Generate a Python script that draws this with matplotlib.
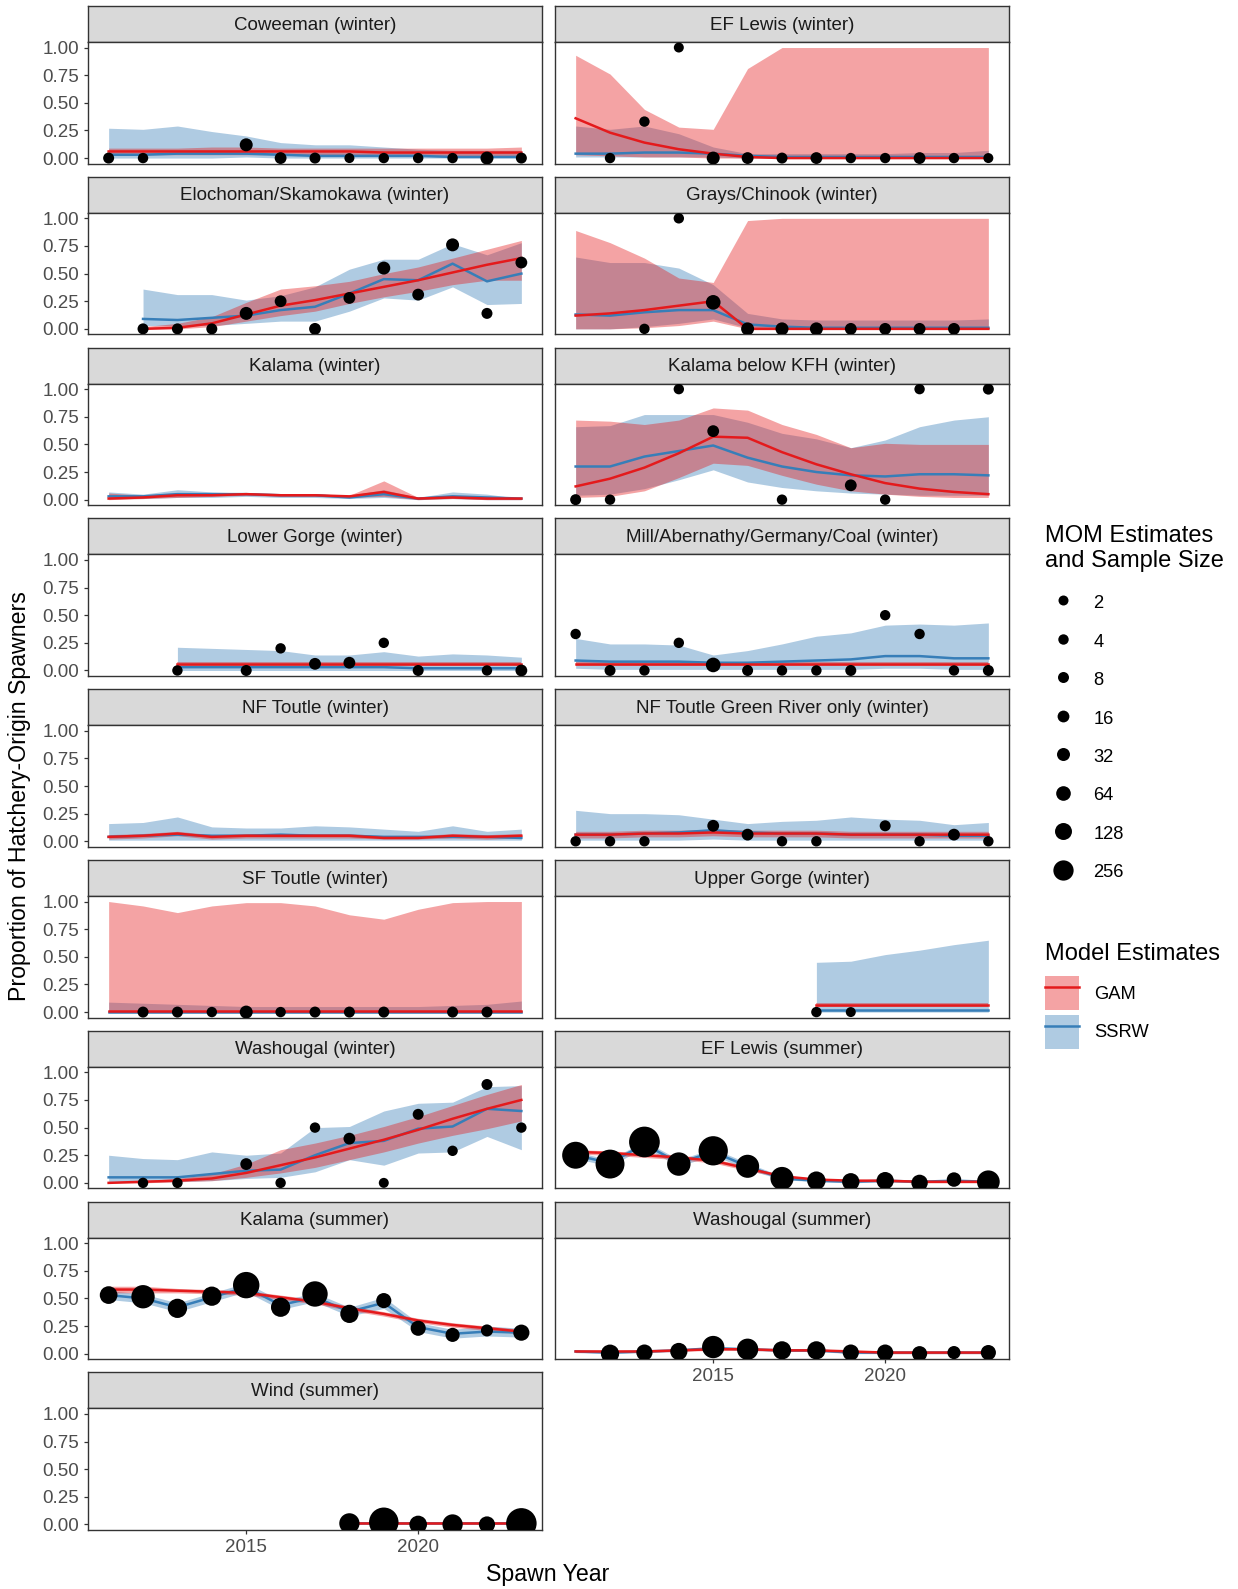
import matplotlib.pyplot as plt
from matplotlib.lines import Line2D
from matplotlib.patches import Patch
import numpy as np

plt.rcParams['font.family'] = ['Liberation Sans', 'DejaVu Sans']

years = [2011, 2012, 2013, 2014, 2015, 2016, 2017, 2018, 2019, 2020, 2021, 2022, 2023]
N = None

# Coweeman (winter)
cow_obs_yr = [2011, 2012, 2015, 2016, 2017, 2018, 2019, 2020, 2021, 2022, 2023]
cow_obs_p = [0, 0, 0.12, 0, 0, 0, 0, 0, 0, 0, 0]
cow_obs_n = [8, 4, 32, 16, 8, 2, 4, 4, 4, 32, 8]
cow_gam = [0.06, 0.06, 0.06, 0.06, 0.06, 0.06, 0.06, 0.06, 0.05, 0.05, 0.05, 0.05, 0.05]
cow_gam_lo = [0.03, 0.03, 0.03, 0.03, 0.03, 0.03, 0.03, 0.03, 0.03, 0.03, 0.02, 0.02, 0.02]
cow_gam_hi = [0.09, 0.09, 0.09, 0.10, 0.10, 0.09, 0.09, 0.09, 0.09, 0.09, 0.09, 0.09, 0.10]
cow_rw = [0.03, 0.03, 0.04, 0.04, 0.04, 0.03, 0.02, 0.02, 0.02, 0.02, 0.01, 0.01, 0.01]
cow_rw_lo = [0.0, 0.0, 0.0, 0.0, 0.01, 0.0, 0.0, 0.0, 0.0, 0.0, 0.0, 0.0, 0.0]
cow_rw_hi = [0.27, 0.26, 0.29, 0.24, 0.20, 0.14, 0.12, 0.12, 0.10, 0.08, 0.07, 0.07, 0.07]

# EF Lewis (winter)
efw_obs_yr = [2012, 2013, 2014, 2015, 2016, 2017, 2018, 2019, 2020, 2021, 2022, 2023]
efw_obs_p = [0, 0.33, 1.0, 0, 0, 0, 0, 0, 0, 0, 0, 0]
efw_obs_n = [4, 4, 2, 32, 16, 8, 16, 4, 4, 16, 4, 2]
efw_gam = [0.36, 0.23, 0.14, 0.08, 0.04, 0.01, 0.0, 0.0, 0.0, 0.0, 0.0, 0.0, 0.0]
efw_gam_lo = [0.03, 0.02, 0.01, 0.01, 0.0, 0.0, 0.0, 0.0, 0.0, 0.0, 0.0, 0.0, 0.0]
efw_gam_hi = [0.93, 0.76, 0.44, 0.28, 0.26, 0.81, 1.0, 1.0, 1.0, 1.0, 1.0, 1.0, 1.0]
efw_rw = [0.04, 0.04, 0.05, 0.05, 0.04, 0.02, 0.01, 0.01, 0.01, 0.01, 0.01, 0.01, 0.01]
efw_rw_lo = [0.01, 0.01, 0.01, 0.01, 0.01, 0.0, 0.0, 0.0, 0.0, 0.0, 0.0, 0.0, 0.0]
efw_rw_hi = [0.29, 0.26, 0.29, 0.22, 0.10, 0.04, 0.04, 0.04, 0.04, 0.04, 0.05, 0.05, 0.07]

# Elochoman/Skamokawa (winter)
elo_obs_yr = [2012, 2013, 2014, 2015, 2016, 2017, 2018, 2019, 2020, 2021, 2022, 2023]
elo_obs_p = [0, 0, 0, 0.14, 0.25, 0, 0.28, 0.55, 0.31, 0.76, 0.14, 0.60]
elo_obs_n = [8, 8, 8, 32, 16, 16, 16, 32, 16, 32, 8, 16]
elo_gam = [N, 0.0, 0.01, 0.05, 0.13, 0.21, 0.26, 0.32, 0.38, 0.44, 0.51, 0.58, 0.64]
elo_gam_lo = [N, 0.0, 0.0, 0.02, 0.07, 0.12, 0.16, 0.23, 0.29, 0.34, 0.40, 0.44, 0.44]
elo_gam_hi = [N, 0.02, 0.05, 0.11, 0.24, 0.36, 0.39, 0.43, 0.50, 0.56, 0.64, 0.72, 0.80]
elo_rw = [N, 0.09, 0.08, 0.10, 0.12, 0.17, 0.20, 0.32, 0.45, 0.44, 0.59, 0.43, 0.50]
elo_rw_lo = [N, 0.03, 0.03, 0.03, 0.05, 0.07, 0.07, 0.16, 0.28, 0.26, 0.38, 0.22, 0.23]
elo_rw_hi = [N, 0.36, 0.31, 0.31, 0.26, 0.30, 0.38, 0.54, 0.63, 0.63, 0.77, 0.67, 0.78]

# Grays/Chinook (winter)
gra_obs_yr = [2013, 2014, 2015, 2016, 2017, 2018, 2019, 2020, 2021, 2022]
gra_obs_p = [0, 1.0, 0.24, 0, 0, 0, 0, 0, 0, 0]
gra_obs_n = [4, 4, 64, 32, 32, 32, 16, 16, 16, 16]
gra_gam = [0.12, 0.14, 0.17, 0.21, 0.25, 0.0, 0.0, 0.0, 0.0, 0.0, 0.0, 0.0, 0.0]
gra_gam_lo = [0.0, 0.0, 0.01, 0.03, 0.07, 0.0, 0.0, 0.0, 0.0, 0.0, 0.0, 0.0, 0.0]
gra_gam_hi = [0.89, 0.78, 0.64, 0.46, 0.42, 0.98, 1.0, 1.0, 1.0, 1.0, 1.0, 1.0, 1.0]
gra_rw = [0.13, 0.12, 0.15, 0.17, 0.17, 0.04, 0.02, 0.01, 0.01, 0.01, 0.01, 0.01, 0.01]
gra_rw_lo = [0.0, 0.0, 0.02, 0.05, 0.09, 0.01, 0.0, 0.0, 0.0, 0.0, 0.0, 0.0, 0.0]
gra_rw_hi = [0.65, 0.60, 0.60, 0.55, 0.40, 0.14, 0.09, 0.08, 0.08, 0.08, 0.08, 0.08, 0.09]

# Kalama (winter)
kal_obs_yr = []
kal_obs_p = []
kal_obs_n = []
kal_gam = [0.01, 0.02, 0.04, 0.04, 0.05, 0.04, 0.04, 0.03, 0.07, 0.01, 0.02, 0.01, 0.01]
kal_gam_lo = [0.0, 0.01, 0.02, 0.03, 0.04, 0.03, 0.03, 0.02, 0.03, 0.0, 0.01, 0.0, 0.0]
kal_gam_hi = [0.06, 0.04, 0.06, 0.05, 0.06, 0.05, 0.05, 0.04, 0.17, 0.02, 0.03, 0.02, 0.01]
kal_rw = [0.03, 0.03, 0.05, 0.05, 0.05, 0.04, 0.04, 0.02, 0.05, 0.01, 0.03, 0.02, 0.01]
kal_rw_lo = [0.01, 0.01, 0.02, 0.02, 0.03, 0.02, 0.02, 0.01, 0.02, 0.0, 0.01, 0.0, 0.0]
kal_rw_hi = [0.07, 0.05, 0.09, 0.07, 0.06, 0.05, 0.05, 0.04, 0.09, 0.02, 0.07, 0.05, 0.01]

# Kalama below KFH (winter)
kbk_obs_yr = [2011, 2012, 2014, 2015, 2017, 2019, 2020, 2021, 2023]
kbk_obs_p = [0, 0, 1.0, 0.62, 0, 0.13, 0, 1.0, 1.0]
kbk_obs_n = [8, 4, 4, 16, 4, 16, 4, 4, 8]
kbk_gam = [0.12, 0.19, 0.29, 0.42, 0.57, 0.56, 0.43, 0.32, 0.23, 0.15, 0.10, 0.07, 0.05]
kbk_gam_lo = [0.02, 0.03, 0.08, 0.20, 0.33, 0.31, 0.22, 0.14, 0.08, 0.05, 0.03, 0.02, 0.02]
kbk_gam_hi = [0.72, 0.71, 0.68, 0.72, 0.83, 0.81, 0.68, 0.59, 0.47, 0.51, 0.50, 0.50, 0.50]
kbk_rw = [0.30, 0.30, 0.39, 0.44, 0.49, 0.38, 0.30, 0.25, 0.22, 0.21, 0.23, 0.23, 0.22]
kbk_rw_lo = [0.04, 0.05, 0.10, 0.18, 0.27, 0.16, 0.11, 0.08, 0.06, 0.05, 0.04, 0.04, 0.04]
kbk_rw_hi = [0.66, 0.67, 0.77, 0.77, 0.77, 0.70, 0.60, 0.55, 0.47, 0.54, 0.66, 0.72, 0.75]

# Lower Gorge (winter)
lgo_obs_yr = [2013, 2015, 2016, 2017, 2018, 2019, 2020, 2022, 2023]
lgo_obs_p = [0, 0, 0.20, 0.06, 0.07, 0.25, 0, 0, 0]
lgo_obs_n = [4, 8, 4, 16, 16, 4, 8, 4, 16]
lgo_gam = [N, N, 0.06, 0.06, 0.06, 0.06, 0.06, 0.06, 0.06, 0.06, 0.06, 0.06, 0.06]
lgo_gam_lo = [N, N, 0.04, 0.04, 0.04, 0.04, 0.04, 0.04, 0.04, 0.04, 0.04, 0.04, 0.04]
lgo_gam_hi = [N, N, 0.08, 0.08, 0.08, 0.08, 0.08, 0.08, 0.08, 0.08, 0.08, 0.08, 0.08]
lgo_rw = [N, N, 0.03, 0.03, 0.03, 0.03, 0.03, 0.03, 0.03, 0.02, 0.02, 0.02, 0.02]
lgo_rw_lo = [N, N, 0.0, 0.0, 0.0, 0.0, 0.0, 0.0, 0.0, 0.0, 0.0, 0.0, 0.0]
lgo_rw_hi = [N, N, 0.21, 0.20, 0.19, 0.18, 0.14, 0.14, 0.17, 0.13, 0.15, 0.14, 0.12]

# Mill/Abernathy/Germany/Coal (winter)
mil_obs_yr = [2011, 2012, 2013, 2014, 2015, 2016, 2017, 2018, 2019, 2020, 2021, 2022, 2023]
mil_obs_p = [0.33, 0, 0, 0.25, 0.05, 0, 0, 0, 0, 0.5, 0.33, 0, 0]
mil_obs_n = [4, 8, 4, 4, 64, 8, 4, 4, 8, 4, 4, 4, 8]
mil_gam = [0.06, 0.06, 0.06, 0.06, 0.06, 0.06, 0.06, 0.06, 0.06, 0.06, 0.06, 0.06, 0.06]
mil_gam_lo = [0.04, 0.04, 0.04, 0.04, 0.04, 0.04, 0.04, 0.04, 0.04, 0.04, 0.04, 0.04, 0.04]
mil_gam_hi = [0.08, 0.08, 0.08, 0.08, 0.08, 0.08, 0.08, 0.08, 0.08, 0.08, 0.08, 0.08, 0.08]
mil_rw = [0.09, 0.08, 0.08, 0.08, 0.07, 0.07, 0.08, 0.09, 0.10, 0.13, 0.13, 0.11, 0.11]
mil_rw_lo = [0.02, 0.01, 0.01, 0.01, 0.01, 0.01, 0.01, 0.01, 0.01, 0.02, 0.02, 0.01, 0.01]
mil_rw_hi = [0.29, 0.24, 0.24, 0.23, 0.14, 0.18, 0.24, 0.31, 0.34, 0.41, 0.42, 0.41, 0.43]

# NF Toutle (winter)
nft_obs_yr = []
nft_obs_p = []
nft_obs_n = []
nft_gam = [0.04, 0.05, 0.07, 0.04, 0.05, 0.05, 0.05, 0.05, 0.03, 0.03, 0.05, 0.04, 0.05]
nft_gam_lo = [0.02, 0.03, 0.05, 0.02, 0.03, 0.03, 0.03, 0.03, 0.02, 0.02, 0.03, 0.02, 0.03]
nft_gam_hi = [0.06, 0.07, 0.09, 0.06, 0.07, 0.07, 0.07, 0.07, 0.05, 0.05, 0.07, 0.06, 0.07]
nft_rw = [0.04, 0.05, 0.06, 0.05, 0.05, 0.06, 0.05, 0.05, 0.04, 0.04, 0.04, 0.04, 0.03]
nft_rw_lo = [0.01, 0.01, 0.01, 0.01, 0.01, 0.01, 0.01, 0.01, 0.01, 0.01, 0.01, 0.01, 0.01]
nft_rw_hi = [0.16, 0.17, 0.22, 0.13, 0.12, 0.12, 0.14, 0.13, 0.11, 0.09, 0.14, 0.09, 0.11]

# NF Toutle Green River only (winter)
ngr_obs_yr = [2011, 2012, 2013, 2015, 2016, 2017, 2018, 2020, 2021, 2022, 2023]
ngr_obs_p = [0, 0, 0, 0.14, 0.06, 0, 0, 0.14, 0, 0.06, 0]
ngr_obs_n = [4, 4, 4, 16, 16, 4, 4, 8, 4, 16, 4]
ngr_gam = [0.06, 0.06, 0.07, 0.07, 0.08, 0.07, 0.07, 0.07, 0.06, 0.06, 0.06, 0.06, 0.06]
ngr_gam_lo = [0.03, 0.03, 0.04, 0.04, 0.05, 0.04, 0.04, 0.04, 0.03, 0.03, 0.03, 0.03, 0.03]
ngr_gam_hi = [0.09, 0.09, 0.10, 0.10, 0.11, 0.10, 0.10, 0.10, 0.09, 0.09, 0.09, 0.09, 0.09]
ngr_rw = [0.06, 0.06, 0.07, 0.08, 0.10, 0.08, 0.07, 0.07, 0.06, 0.06, 0.06, 0.05, 0.05]
ngr_rw_lo = [0.01, 0.01, 0.01, 0.01, 0.02, 0.01, 0.01, 0.01, 0.01, 0.01, 0.01, 0.01, 0.01]
ngr_rw_hi = [0.28, 0.25, 0.25, 0.24, 0.20, 0.16, 0.18, 0.19, 0.22, 0.20, 0.19, 0.15, 0.17]

# SF Toutle (winter)
sft_obs_yr = [2012, 2013, 2014, 2015, 2016, 2017, 2018, 2019, 2021, 2022]
sft_obs_p = [0, 0, 0, 0, 0, 0, 0, 0, 0, 0]
sft_obs_n = [8, 8, 4, 32, 4, 8, 8, 8, 8, 8]
sft_gam = [0.01, 0.01, 0.01, 0.01, 0.01, 0.01, 0.01, 0.01, 0.01, 0.01, 0.01, 0.01, 0.01]
sft_gam_lo = [0.0, 0.0, 0.0, 0.0, 0.0, 0.0, 0.0, 0.0, 0.0, 0.0, 0.0, 0.0, 0.0]
sft_gam_hi = [1.0, 0.96, 0.90, 0.96, 0.99, 0.99, 0.96, 0.88, 0.84, 0.93, 0.99, 1.0, 1.0]
sft_rw = [0.005, 0.005, 0.005, 0.005, 0.005, 0.005, 0.005, 0.005, 0.005, 0.005, 0.005, 0.005, 0.005]
sft_rw_lo = [0.0, 0.0, 0.0, 0.0, 0.0, 0.0, 0.0, 0.0, 0.0, 0.0, 0.0, 0.0, 0.0]
sft_rw_hi = [0.09, 0.08, 0.07, 0.06, 0.05, 0.05, 0.05, 0.05, 0.05, 0.05, 0.06, 0.07, 0.10]

# Upper Gorge (winter)
ugo_obs_yr = [2018, 2019]
ugo_obs_p = [0, 0]
ugo_obs_n = [4, 2]
ugo_gam = [N, N, N, N, N, N, N, 0.06, 0.06, 0.06, 0.06, 0.06, 0.06]
ugo_gam_lo = [N, N, N, N, N, N, N, 0.05, 0.05, 0.05, 0.05, 0.05, 0.05]
ugo_gam_hi = [N, N, N, N, N, N, N, 0.08, 0.08, 0.08, 0.08, 0.08, 0.08]
ugo_rw = [N, N, N, N, N, N, N, 0.015, 0.015, 0.015, 0.015, 0.015, 0.015]
ugo_rw_lo = [N, N, N, N, N, N, N, 0.0, 0.0, 0.0, 0.0, 0.0, 0.0]
ugo_rw_hi = [N, N, N, N, N, N, N, 0.45, 0.46, 0.52, 0.56, 0.61, 0.65]

# Washougal (winter)
wsw_obs_yr = [2012, 2013, 2015, 2016, 2017, 2018, 2019, 2020, 2021, 2022, 2023]
wsw_obs_p = [0, 0, 0.17, 0, 0.50, 0.40, 0, 0.62, 0.29, 0.89, 0.50]
wsw_obs_n = [4, 4, 16, 4, 4, 16, 2, 8, 4, 8, 4]
wsw_gam = [0.0, 0.01, 0.02, 0.04, 0.09, 0.16, 0.23, 0.31, 0.39, 0.48, 0.58, 0.67, 0.75]
wsw_gam_lo = [0.0, 0.0, 0.01, 0.02, 0.05, 0.09, 0.14, 0.21, 0.28, 0.36, 0.43, 0.49, 0.56]
wsw_gam_hi = [0.01, 0.02, 0.04, 0.08, 0.17, 0.30, 0.36, 0.43, 0.51, 0.60, 0.70, 0.80, 0.89]
wsw_rw = [0.05, 0.05, 0.05, 0.08, 0.11, 0.12, 0.25, 0.36, 0.38, 0.49, 0.51, 0.67, 0.65]
wsw_rw_lo = [0.01, 0.01, 0.01, 0.02, 0.04, 0.05, 0.10, 0.21, 0.16, 0.27, 0.28, 0.42, 0.30]
wsw_rw_hi = [0.25, 0.22, 0.21, 0.28, 0.25, 0.27, 0.50, 0.51, 0.65, 0.72, 0.73, 0.87, 0.88]

# EF Lewis (summer)
efs_obs_yr = [2011, 2012, 2013, 2014, 2015, 2016, 2017, 2018, 2019, 2020, 2021, 2022, 2023]
efs_obs_p = [0.25, 0.17, 0.37, 0.17, 0.29, 0.15, 0.04, 0.02, 0.01, 0.02, 0.0, 0.03, 0.01]
efs_obs_n = [650, 800, 950, 420, 830, 400, 400, 180, 140, 140, 110, 60, 380]
efs_gam = [0.28, 0.27, 0.25, 0.23, 0.20, 0.13, 0.06, 0.03, 0.02, 0.02, 0.01, 0.01, 0.01]
efs_gam_lo = [0.26, 0.25, 0.23, 0.21, 0.18, 0.11, 0.05, 0.02, 0.01, 0.01, 0.0, 0.0, 0.0]
efs_gam_hi = [0.30, 0.29, 0.27, 0.25, 0.22, 0.15, 0.07, 0.04, 0.03, 0.03, 0.02, 0.02, 0.02]
efs_rw = [0.25, 0.18, 0.35, 0.18, 0.28, 0.15, 0.04, 0.02, 0.01, 0.02, 0.01, 0.02, 0.01]
efs_rw_lo = [0.22, 0.15, 0.32, 0.15, 0.25, 0.12, 0.03, 0.01, 0.0, 0.01, 0.0, 0.01, 0.0]
efs_rw_hi = [0.28, 0.21, 0.38, 0.21, 0.31, 0.18, 0.06, 0.03, 0.02, 0.03, 0.02, 0.03, 0.02]

# Kalama (summer)
kas_obs_yr = [2011, 2012, 2013, 2014, 2015, 2016, 2017, 2018, 2019, 2020, 2021, 2022, 2023]
kas_obs_p = [0.53, 0.515, 0.41, 0.52, 0.62, 0.42, 0.54, 0.36, 0.48, 0.23, 0.17, 0.21, 0.19]
kas_obs_n = [153, 415, 212, 212, 612, 212, 542, 172, 76, 76, 53, 19, 104]
kas_gam = [0.58, 0.58, 0.57, 0.56, 0.55, 0.51, 0.47, 0.41, 0.36, 0.30, 0.26, 0.23, 0.20]
kas_gam_lo = [0.55, 0.55, 0.55, 0.54, 0.53, 0.49, 0.45, 0.39, 0.34, 0.28, 0.24, 0.21, 0.18]
kas_gam_hi = [0.61, 0.61, 0.59, 0.58, 0.57, 0.53, 0.49, 0.43, 0.38, 0.32, 0.28, 0.25, 0.22]
kas_rw = [0.53, 0.50, 0.42, 0.51, 0.60, 0.44, 0.51, 0.38, 0.46, 0.24, 0.18, 0.20, 0.19]
kas_rw_lo = [0.49, 0.46, 0.38, 0.47, 0.56, 0.40, 0.47, 0.34, 0.41, 0.20, 0.14, 0.16, 0.15]
kas_rw_hi = [0.57, 0.54, 0.46, 0.55, 0.64, 0.48, 0.55, 0.42, 0.51, 0.28, 0.22, 0.25, 0.23]

# Washougal (summer)
wss_obs_yr = [2012, 2013, 2014, 2015, 2016, 2017, 2018, 2019, 2020, 2021, 2022, 2023]
wss_obs_p = [0.0, 0.01, 0.02, 0.06, 0.04, 0.03, 0.03, 0.01, 0.01, 0.0, 0.01, 0.01]
wss_obs_n = [172, 104, 135, 358, 305, 172, 172, 104, 104, 76, 34, 76]
wss_gam = [0.02, 0.02, 0.02, 0.03, 0.04, 0.04, 0.03, 0.03, 0.02, 0.01, 0.01, 0.01, 0.01]
wss_gam_lo = [0.01, 0.01, 0.01, 0.02, 0.03, 0.03, 0.02, 0.02, 0.01, 0.0, 0.0, 0.0, 0.0]
wss_gam_hi = [0.03, 0.03, 0.03, 0.04, 0.05, 0.05, 0.04, 0.04, 0.03, 0.02, 0.02, 0.02, 0.02]
wss_rw = [0.02, 0.01, 0.02, 0.03, 0.05, 0.04, 0.03, 0.03, 0.01, 0.01, 0.01, 0.01, 0.01]
wss_rw_lo = [0.01, 0.0, 0.01, 0.02, 0.04, 0.03, 0.02, 0.02, 0.0, 0.0, 0.0, 0.0, 0.0]
wss_rw_hi = [0.03, 0.02, 0.03, 0.04, 0.06, 0.05, 0.04, 0.04, 0.02, 0.02, 0.02, 0.02, 0.02]

# Wind (summer)
wnd_obs_yr = [2018, 2019, 2020, 2021, 2022, 2023]
wnd_obs_p = [0.01, 0.02, 0.0, 0.0, 0.0, 0.01]
wnd_obs_n = [256, 846, 150, 256, 104, 933]
wnd_gam = [N, N, N, N, N, N, N, 0.01, 0.01, 0.01, 0.01, 0.01, 0.01]
wnd_gam_lo = [N, N, N, N, N, N, N, 0.0, 0.0, 0.0, 0.0, 0.0, 0.0]
wnd_gam_hi = [N, N, N, N, N, N, N, 0.02, 0.02, 0.02, 0.02, 0.02, 0.02]
wnd_rw = [N, N, N, N, N, N, N, 0.01, 0.01, 0.01, 0.01, 0.01, 0.01]
wnd_rw_lo = [N, N, N, N, N, N, N, 0.0, 0.0, 0.0, 0.0, 0.0, 0.0]
wnd_rw_hi = [N, N, N, N, N, N, N, 0.02, 0.02, 0.02, 0.02, 0.02, 0.02]

titles = ['Coweeman (winter)', 'EF Lewis (winter)', 'Elochoman/Skamokawa (winter)',
          'Grays/Chinook (winter)', 'Kalama (winter)', 'Kalama below KFH (winter)',
          'Lower Gorge (winter)', 'Mill/Abernathy/Germany/Coal (winter)', 'NF Toutle (winter)',
          'NF Toutle Green River only (winter)', 'SF Toutle (winter)', 'Upper Gorge (winter)',
          'Washougal (winter)', 'EF Lewis (summer)', 'Kalama (summer)', 'Washougal (summer)',
          'Wind (summer)']
keys = ['cow', 'efw', 'elo', 'gra', 'kal', 'kbk', 'lgo', 'mil', 'nft', 'ngr', 'sft', 'ugo',
        'wsw', 'efs', 'kas', 'wss', 'wnd']
size_breaks = [2, 4, 8, 16, 32, 64, 128, 256]

RED = '#E41A1C'
BLUE = '#377EB8'
DARK = '#333333'

W, H = 1238, 1589
fig = plt.figure(figsize=(W / 100, H / 100), dpi=100)


def rect(x, y, w, h):
    return [x / W, 1 - (y + h) / H, w / W, h / H]


def msize(n):
    # marker diameter in points; area grows with sample size like ggplot's scale_size
    return (9 + 21.5 * np.sqrt(np.asarray(n, dtype=float) / 933.0)) * 0.72


col_x = [88, 555]
pw, ph = 454, 121.6
strip_h = 36
pitch = 170.8
g = globals()

for i, (k, title) in enumerate(zip(keys, titles)):
    r, c = divmod(i, 2)
    top = 6 + r * pitch

    sax = fig.add_axes(rect(col_x[c], top, pw, strip_h))
    sax.set_facecolor('#D9D9D9')
    sax.set_xticks([])
    sax.set_yticks([])
    for sp in sax.spines.values():
        sp.set_color(DARK)
        sp.set_linewidth(1.0)
    sax.text(0.5, 0.47, title, ha='center', va='center', fontsize=13.5, color='#1A1A1A',
             transform=sax.transAxes)

    ax = fig.add_axes(rect(col_x[c], top + strip_h, pw, ph))
    yrs = np.array(years)
    arr = lambda name: np.array(g[k + name], dtype=float)
    ax.fill_between(yrs, arr('_rw_lo'), arr('_rw_hi'), color=BLUE, alpha=0.4, lw=0)
    ax.fill_between(yrs, arr('_gam_lo'), arr('_gam_hi'), color=RED, alpha=0.4, lw=0)
    ax.plot(yrs, arr('_rw'), color=BLUE, lw=1.8)
    ax.plot(yrs, arr('_gam'), color=RED, lw=1.8)
    if len(g[k + '_obs_yr']):
        ax.scatter(g[k + '_obs_yr'], g[k + '_obs_p'], s=msize(g[k + '_obs_n']) ** 2,
                   color='black', linewidths=0, zorder=4)

    ax.set_xlim(2010.4, 2023.6)
    ax.set_ylim(-0.05, 1.05)
    for sp in ax.spines.values():
        sp.set_color(DARK)
        sp.set_linewidth(1.0)
    ax.tick_params(colors=DARK, labelcolor='#4D4D4D', labelsize=13.5, length=3, width=0.9)
    if c == 0:
        ax.set_yticks([0, 0.25, 0.5, 0.75, 1.0])
        ax.set_yticklabels(['0.00', '0.25', '0.50', '0.75', '1.00'])
    else:
        ax.set_yticks([])
    if i in (15, 16):
        ax.set_xticks([2015, 2020])
        ax.set_xticklabels(['2015', '2020'])
    else:
        ax.set_xticks([])

fig.text(20 / W, 1 - 796 / H, 'Proportion of Hatchery-Origin Spawners', rotation=90,
         ha='center', va='center', fontsize=16.7)
fig.text(548 / W, 1 - 1575 / H, 'Spawn Year', ha='center', va='center', fontsize=16.7)

size_handles = [Line2D([], [], ls='', marker='o', color='black', markeredgewidth=0,
                       markersize=msize(n)) for n in size_breaks]
leg1 = fig.legend(size_handles, [str(n) for n in size_breaks],
                  title='MOM Estimates\nand Sample Size', loc='upper left',
                  bbox_to_anchor=(1045 / W, 1 - 525 / H), frameon=False, fontsize=13.2,
                  title_fontsize=17, alignment='left', handlelength=2.0, handleheight=1.2,
                  labelspacing=1.03, handletextpad=0.65, borderpad=0, borderaxespad=0)
leg1._legend_box.sep = 14.5

model_handles = [(Patch(facecolor=RED, alpha=0.4, edgecolor='none'), Line2D([], [], color=RED, lw=1.8)),
                 (Patch(facecolor=BLUE, alpha=0.4, edgecolor='none'), Line2D([], [], color=BLUE, lw=1.8))]
leg2 = fig.legend(model_handles, ['GAM', 'SSRW'], title='Model Estimates', loc='upper left',
                  bbox_to_anchor=(1045 / W, 1 - 943 / H), frameon=False, fontsize=13.2,
                  title_fontsize=17, alignment='left', handlelength=1.86, handleheight=2.48,
                  labelspacing=0.245, handletextpad=0.8, borderpad=0, borderaxespad=0)
leg2._legend_box.sep = 7.9

fig.savefig('out.png', dpi=100)
